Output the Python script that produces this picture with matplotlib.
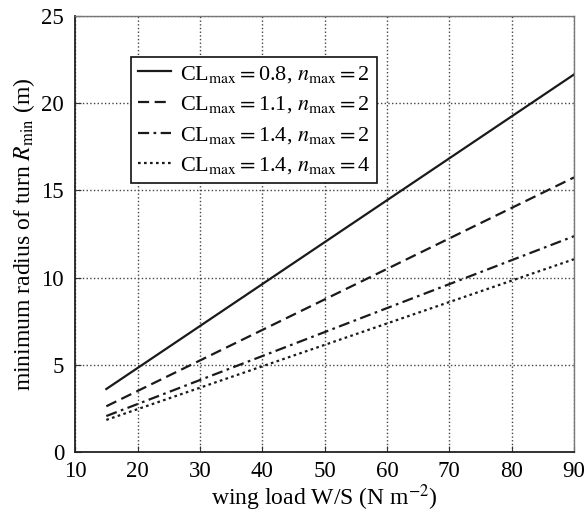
import matplotlib.pyplot as plt

# wing load (N m^-2) at the two ends of each line
wing_load = [15, 90]
r_cl08_n2 = [3.62, 21.65]
r_cl11_n2 = [2.63, 15.75]
r_cl14_n2 = [2.07, 12.38]
r_cl14_n4 = [1.85, 11.06]

labels = [r'CL$_{\mathrm{max}}$$=$0.8, $n_{\mathrm{max}}$$=$2',
          r'CL$_{\mathrm{max}}$$=$1.1, $n_{\mathrm{max}}$$=$2',
          r'CL$_{\mathrm{max}}$$=$1.4, $n_{\mathrm{max}}$$=$2',
          r'CL$_{\mathrm{max}}$$=$1.4, $n_{\mathrm{max}}$$=$4']

plt.rcParams['font.family'] = ['Liberation Serif', 'DejaVu Serif']
plt.rcParams['mathtext.fontset'] = 'stix'

fig = plt.figure(figsize=(5.87, 5.15), dpi=100)
ax = fig.add_axes([0.128, 0.122, 0.850, 0.847])

ax.plot(wing_load, r_cl08_n2, color='#1a1a1a', lw=1.6, ls='-', label=labels[0])
ax.plot(wing_load, r_cl11_n2, color='#1a1a1a', lw=1.6, ls=(0, (5, 2.5)), label=labels[1])
ax.plot(wing_load, r_cl14_n2, color='#1a1a1a', lw=1.6, ls=(0, (5, 2, 1.2, 2)), label=labels[2])
ax.plot(wing_load, r_cl14_n4, color='#1a1a1a', lw=1.6, ls=(0, (1.2, 1.5)), label=labels[3])

ax.set_xlim(10, 90)
ax.set_ylim(0, 25)
ax.set_xticks(range(10, 91, 10))
ax.set_yticks(range(0, 26, 5))
ax.grid(True, ls=':', color='#444444', lw=1.0)
ax.tick_params(direction='in', labelsize=16.5, length=4, color='#333333')
ax.tick_params(axis='x', pad=6.5)
ax.tick_params(axis='y', pad=8)
for side in ['left', 'bottom']:
    ax.spines[side].set_color('#222222')
    ax.spines[side].set_linewidth(1.3)
for side in ['top', 'right']:
    ax.spines[side].set_color('#777777')
    ax.spines[side].set_linewidth(1.0)

ax.set_xlabel(r'wing load W/S (N m$^{-2}$)', fontsize=17, labelpad=0.5)
ax.set_ylabel(r'minimum radius of turn $R_{\mathrm{min}}$ (m)', fontsize=17, labelpad=3)

leg = ax.legend(loc='upper left', bbox_to_anchor=(0.112, 0.906), fontsize=16,
                frameon=True, fancybox=False, edgecolor='#111111', framealpha=1,
                handlelength=1.5, handletextpad=0.4, borderpad=0.3, labelspacing=0.43,
                borderaxespad=0)
leg.get_frame().set_linewidth(1.2)

plt.savefig('out.png', dpi=100)
